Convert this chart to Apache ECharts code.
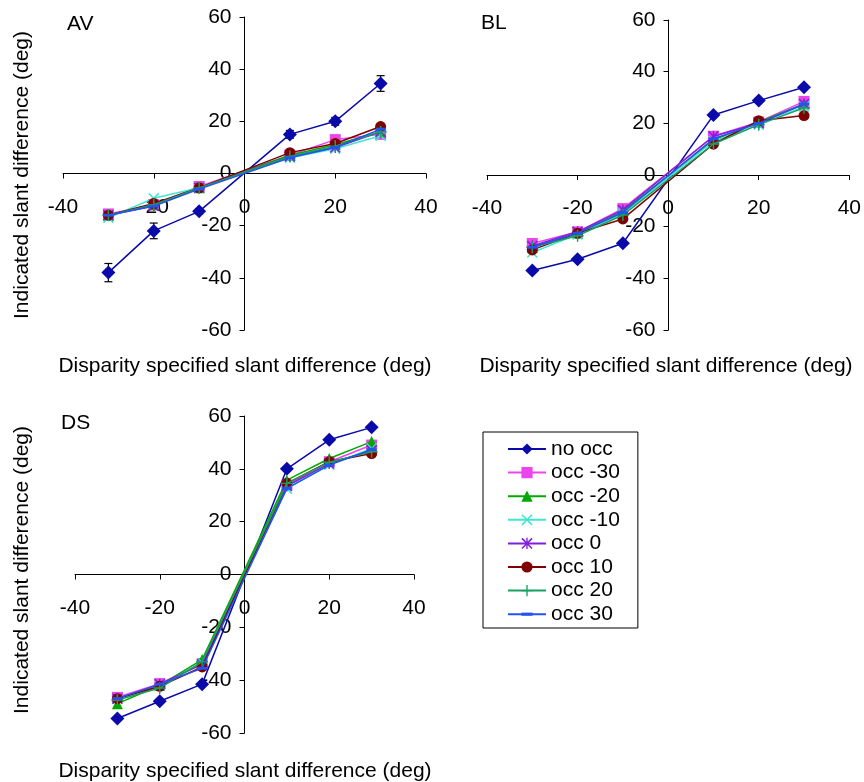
<!DOCTYPE html>
<html>
<head>
<meta charset="utf-8">
<script src="https://cdn.jsdelivr.net/npm/echarts@6/dist/echarts.min.js"></script>
<style>
html,body{margin:0;padding:0;background:#fff;}
#chart{width:864px;height:782px;}
</style>
</head>
<body>
<div id="chart"></div>
<script>
// ---------- DATA ----------
const slantX = [-30, -20, -10, 10, 20, 30];
const seriesNames = ['no occ', 'occ -30', 'occ -20', 'occ -10', 'occ 0', 'occ 10', 'occ 20', 'occ 30'];
const panelNames = ['AV', 'BL', 'DS'];
const xTicks = [-40, -20, 0, 20, 40];
const yTicks = [-60, -40, -20, 0, 20, 40, 60];

// AV
const avNoOcc  = [-38, -22, -14.5, 15, 20, 34.5];
const avNoOccErr = [3.5, 3, 1, 1.5, 1.5, 3];
const avOccM30 = [-15.5, -12, -5, 7, 13, 15];
const avOccM20 = [-16, -12, -5.5, 7, 11, 16];
const avOccM10 = [-17, -9.5, -5.5, 6, 9.5, 14.5];
const avOcc0   = [-16, -12.5, -5.5, 6.5, 10, 16];
const avOcc10  = [-16, -11.5, -5.5, 8, 11.5, 18];
const avOcc20  = [-16, -12, -5.5, 6.5, 10.5, 16];
const avOcc30  = [-16, -12.5, -6, 6, 10, 17];

// BL
const blNoOcc  = [-37, -32.6, -26.4, 23.2, 28.8, 34];
const blOccM30 = [-26.5, -22, -13, 15, 20.5, 28.5];
const blOccM20 = [-28, -22.5, -14, 13.5, 20.5, 27.5];
const blOccM10 = [-30, -23, -15, 13, 19.5, 26.5];
const blOcc0   = [-27.5, -22, -13.5, 15, 20, 27.5];
const blOcc10  = [-29, -22.5, -17, 12, 21, 23];
const blOcc20  = [-28, -23.5, -15.5, 12, 19.5, 26];
const blOcc30  = [-28, -22.5, -14.5, 14, 20, 27.5];

// DS
const dsNoOcc  = [-54.5, -48, -41.5, 40, 51, 55.7];
const dsOccM30 = [-46.5, -41.3, -33.7, 33.8, 42.7, 49];
const dsOccM20 = [-48.9, -42, -32.2, 35.7, 43.9, 50.3];
const dsOccM10 = [-47, -42, -33.5, 32.5, 41.5, 47.7];
const dsOcc0   = [-47, -41.5, -34, 33.5, 42, 47];
const dsOcc10  = [-47, -42.3, -35, 34.5, 42.7, 45.8];
const dsOcc20  = [-47.5, -43, -33, 34.5, 42.5, 46.5];
const dsOcc30  = [-47, -41.5, -35.5, 32.6, 41.4, 47.3];

// ---------- STYLE ----------
const FONT = '"Liberation Sans", Arial, sans-serif';
const FS = 21;
const colors = ['#0A0AAA', '#EE44EE', '#00AA00', '#40E6D0', '#7F1FDF', '#800000', '#17A060', '#2255F0'];
const xPath = 'path://M1,0 L5,4 L9,0 L10,1 L6,5 L10,9 L9,10 L5,6 L1,10 L0,9 L4,5 L0,1 Z';
const astPath = 'path://M1,0 L5,4 L9,0 L10,1 L6,5 L10,9 L9,10 L5,6 L1,10 L0,9 L4,5 L0,1 Z M4.4,0 L5.6,0 L5.6,10 L4.4,10 Z';
const plusPath = 'path://M4.4,0 L5.6,0 L5.6,4.4 L10,4.4 L10,5.6 L5.6,5.6 L5.6,10 L4.4,10 L4.4,5.6 L0,5.6 L0,4.4 L4.4,4.4 Z';
const dashPath = 'path://M0,0 M10,10 M0,3.6 L10,3.6 L10,6.4 L0,6.4 Z';
const symbols = ['diamond', 'rect', 'triangle', xPath, astPath, 'circle', plusPath, dashPath];
const symbolSizes = [14, 11, 11, 11, 11, 11, 12, 10];

const panelData = [
  [avNoOcc, avOccM30, avOccM20, avOccM10, avOcc0, avOcc10, avOcc20, avOcc30],
  [blNoOcc, blOccM30, blOccM20, blOccM10, blOcc0, blOcc10, blOcc20, blOcc30],
  [dsNoOcc, dsOccM30, dsOccM20, dsOccM10, dsOcc0, dsOcc10, dsOcc20, dsOcc30]
];

const grids = [
  {left: 63, top: 17, width: 363, height: 313},
  {left: 487, top: 20, width: 363, height: 310},
  {left: 75, top: 416, width: 339, height: 317}
];

function pairs(ys) { return slantX.map((x, i) => [x, ys[i]]); }

const xAxes = grids.map((g, i) => ({
  gridIndex: i, type: 'value', position: 'bottom', offset: -g.height / 2,
  min: xTicks[0], max: xTicks[xTicks.length - 1], interval: 20,
  axisLine: {onZero: false, lineStyle: {color: '#000', width: 1}},
  axisTick: {show: true, length: 5, inside: false, lineStyle: {color: '#000'}},
  axisLabel: {fontSize: FS, color: '#000', margin: 23, fontFamily: FONT},
  splitLine: {show: false}
}));
const yAxes = grids.map((g, i) => ({
  gridIndex: i, type: 'value', position: 'left', offset: -g.width / 2,
  min: yTicks[0], max: yTicks[yTicks.length - 1], interval: 20,
  axisLine: {onZero: false, lineStyle: {color: '#000', width: 1}},
  axisTick: {show: true, length: 5, inside: false, lineStyle: {color: '#000'}},
  axisLabel: {fontSize: FS, color: '#000', margin: 13, fontFamily: FONT},
  splitLine: {show: false}
}));

const series = [];
// error bars for AV no occ
series.push({
  type: 'custom', xAxisIndex: 0, yAxisIndex: 0, z: 1, silent: true,
  data: slantX.map((x, i) => [x, avNoOcc[i] - avNoOccErr[i], avNoOcc[i] + avNoOccErr[i]]),
  encode: {x: 0, y: [1, 2]},
  renderItem: function (params, api) {
    const lo = api.coord([api.value(0), api.value(1)]);
    const hi = api.coord([api.value(0), api.value(2)]);
    const w = 4;
    const st = {stroke: '#000', lineWidth: 1.2};
    return {type: 'group', children: [
      {type: 'line', shape: {x1: lo[0], y1: lo[1], x2: hi[0], y2: hi[1]}, style: st},
      {type: 'line', shape: {x1: lo[0] - w, y1: lo[1], x2: lo[0] + w, y2: lo[1]}, style: st},
      {type: 'line', shape: {x1: hi[0] - w, y1: hi[1], x2: hi[0] + w, y2: hi[1]}, style: st}
    ]};
  }
});
panelData.forEach((panel, p) => {
  panel.forEach((vals, s) => {
    series.push({
      name: seriesNames[s], type: 'line', xAxisIndex: p, yAxisIndex: p,
      data: pairs(vals),
      symbol: symbols[s], symbolSize: symbolSizes[s], symbolKeepAspect: true, showSymbol: true,
      lineStyle: {color: colors[s], width: 1.5},
      itemStyle: {color: colors[s]},
      z: 2 + s * 0.01,
      emphasis: {disabled: true}
    });
  });
});

const tf = FS + 'px ' + FONT;
const graphics = [
  {type: 'text', left: 67, top: 14, style: {text: 'AV', font: tf, fill: '#000'}},
  {type: 'text', left: 481, top: 13, style: {text: 'BL', font: tf, fill: '#000'}},
  {type: 'text', left: 61, top: 413, style: {text: 'DS', font: tf, fill: '#000'}},
  {type: 'text', x: 245, y: 366, style: {text: 'Disparity specified slant difference (deg)', font: tf, fill: '#000', textAlign: 'center', textVerticalAlign: 'middle'}},
  {type: 'text', x: 666, y: 366, style: {text: 'Disparity specified slant difference (deg)', font: tf, fill: '#000', textAlign: 'center', textVerticalAlign: 'middle'}},
  {type: 'text', x: 245, y: 771, style: {text: 'Disparity specified slant difference (deg)', font: tf, fill: '#000', textAlign: 'center', textVerticalAlign: 'middle'}},
  {type: 'text', x: 22, y: 175, rotation: Math.PI / 2, style: {text: 'Indicated slant difference (deg)', font: tf, fill: '#000', textAlign: 'center', textVerticalAlign: 'middle'}},
  {type: 'text', x: 22, y: 570, rotation: Math.PI / 2, style: {text: 'Indicated slant difference (deg)', font: tf, fill: '#000', textAlign: 'center', textVerticalAlign: 'middle'}}
];

const chart = echarts.init(document.getElementById('chart'), null, {renderer: 'canvas'});
chart.setOption({
  animation: false,
  backgroundColor: '#fff',
  textStyle: {fontFamily: FONT},
  grid: grids,
  xAxis: xAxes,
  yAxis: yAxes,
  legend: {
    data: seriesNames,
    orient: 'vertical', left: 483, top: 432,
    itemWidth: 38, itemHeight: 14, itemGap: 2.6,
    padding: [6.5, 18, 3.3, 24],
    borderColor: '#000', borderWidth: 1,
    textStyle: {fontSize: FS, lineHeight: 21, color: '#000', fontFamily: FONT},
    selectedMode: false
  },
  graphic: graphics,
  series: series
});
</script>
</body>
</html>
